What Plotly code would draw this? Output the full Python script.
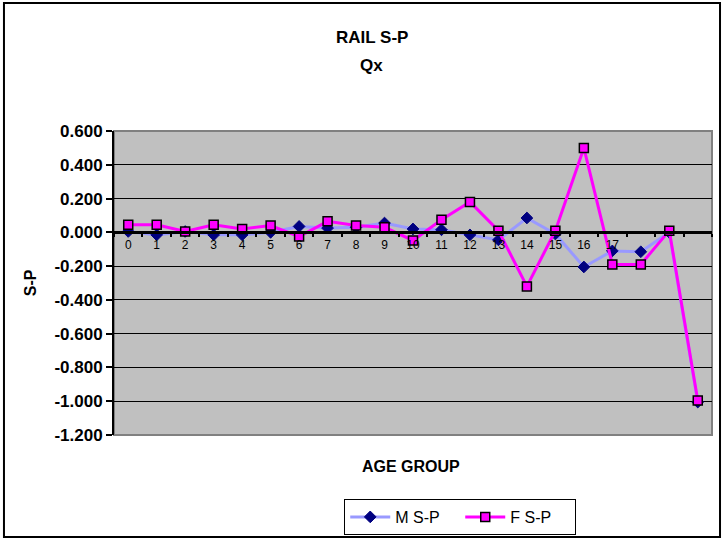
import plotly.graph_objects as go

# age groups on the category axis (the last three carry no label)
age_groups = [str(i) for i in range(21)]
age_labels = [str(i) for i in range(18)] + ["", "", ""]

# S-P values
m_sp = [0.005, -0.015, 0.005, -0.015, -0.015, 0.0, 0.035, 0.025, 0.03, 0.055,
        0.02, 0.015, -0.015, -0.045, 0.085, -0.01, -0.205, -0.11, -0.115, 0.0, -1.005]
f_sp = [0.045, 0.045, 0.005, 0.045, 0.02, 0.04, -0.025, 0.065, 0.04, 0.03,
        -0.048, 0.075, 0.18, 0.01, -0.32, 0.01, 0.50, -0.19, -0.19, 0.01, -0.995]

y_ticks = [0.6, 0.4, 0.2, 0.0, -0.2, -0.4, -0.6, -0.8, -1.0, -1.2]
y_tick_text = ["0.600", "0.400", "0.200", "0.000", "-0.200", "-0.400",
               "-0.600", "-0.800", "-1.000", "-1.200"]

fig = go.Figure()

fig.add_trace(go.Scatter(
    x=age_groups, y=m_sp, name="M S-P", mode="lines+markers",
    line=dict(color="#9999FF", width=3),
    marker=dict(symbol="diamond", size=9, color="#000080",
                line=dict(color="#000080", width=1)),
    cliponaxis=False,
))
fig.add_trace(go.Scatter(
    x=age_groups, y=f_sp, name="F S-P", mode="lines+markers",
    line=dict(color="#FF00FF", width=3),
    marker=dict(symbol="square", size=9, color="#FF00FF",
                line=dict(color="black", width=1.5)),
    cliponaxis=False,
))

fig.update_layout(
    width=722, height=539,
    margin=dict(l=114, r=10, t=131, b=104, autoexpand=False),
    paper_bgcolor="white",
    plot_bgcolor="#C0C0C0",
    font=dict(family="Liberation Sans, Arial, sans-serif", color="black"),
    showlegend=True,
    legend=dict(
        orientation="h", x=0.579, y=-0.2697, xanchor="center", yanchor="middle",
        bordercolor="black", borderwidth=1, bgcolor="white",
        font=dict(size=16), itemwidth=40, entrywidth=60,
    ),
)

fig.update_xaxes(
    type="category",
    categoryorder="array", categoryarray=age_groups,
    tickvals=age_groups, ticktext=age_labels,
    tickson="boundaries",
    anchor="free", position=1.2 / 1.8,
    showline=True, linecolor="black", linewidth=3,
    ticks="outside", ticklen=3, tickwidth=2, tickcolor="black",
    tickfont=dict(size=12),
    showgrid=False, zeroline=False,
    range=[-0.5, 20.5],
)

fig.update_yaxes(
    range=[-1.2, 0.6],
    tickvals=y_ticks, ticktext=["<b>%s</b>" % t for t in y_tick_text],
    tickfont=dict(size=17),
    showline=True, linecolor="black", linewidth=2,
    ticks="outside", ticklen=6, tickwidth=1.5, tickcolor="black",
    showgrid=True, gridcolor="black", gridwidth=1,
    zeroline=False,
)

# plot area frame and outer chart border
fig.add_shape(type="rect", xref="paper", yref="paper", x0=0, x1=1, y0=0, y1=1,
              line=dict(color="#808080", width=2), layer="below")
fig.add_shape(type="rect", xref="paper", yref="paper",
              x0=-0.184, x1=1.0134, y0=-0.3355, y1=1.421,
              line=dict(color="black", width=2))

# titles
title_font = dict(size=17)
fig.add_annotation(text="<b>RAIL S-P</b>", xref="paper", yref="paper",
                   x=0.431, y=1.309, xanchor="center", yanchor="middle",
                   showarrow=False, font=title_font)
fig.add_annotation(text="<b>Qx</b>", xref="paper", yref="paper",
                   x=0.431, y=1.214, xanchor="center", yanchor="middle",
                   showarrow=False, font=title_font)
fig.add_annotation(text="<b>AGE GROUP</b>", xref="paper", yref="paper",
                   x=0.497, y=-0.105, xanchor="center", yanchor="middle",
                   showarrow=False, font=dict(size=16))
fig.add_annotation(text="<b>S-P</b>", xref="paper", yref="paper",
                   x=-0.14, y=0.5, xanchor="center", yanchor="middle",
                   textangle=-90, showarrow=False, font=dict(size=16))

# drop the browser's default 8px body margin so the figure sits at the page corner
fig.write_html("out.html", config={"displayModeBar": False},
               post_script="document.body.style.margin='0';")
